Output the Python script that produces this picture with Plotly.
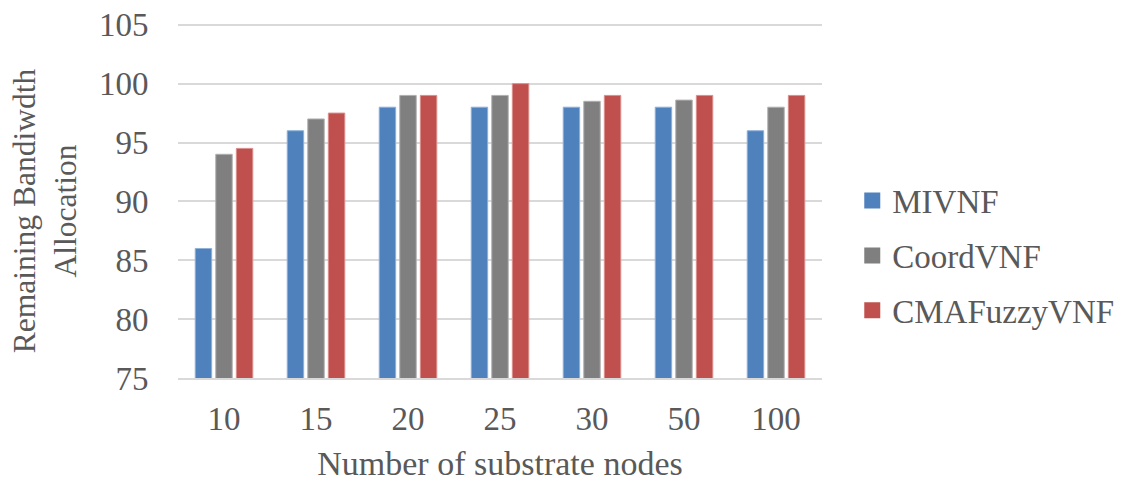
import plotly.graph_objects as go

categories = ["10", "15", "20", "25", "30", "50", "100"]
mivnf = [86, 96, 98, 98, 98, 98, 96]
coordvnf = [94, 97, 99, 99, 98.5, 98.6, 98]
cmafuzzy = [94.5, 97.5, 99, 100, 99, 99, 99]
series_names = ["MIVNF", "CoordVNF", "CMAFuzzyVNF"]
series_values = [mivnf, coordvnf, cmafuzzy]
colors = ["#4F81BD", "#7F7F7F", "#C0504D"]
edge_colors = ["#8FB0D8", "#B0B0B0", "#DB8E8C"]
y_ticks = [75, 80, 85, 90, 95, 100, 105]

FONT = "Liberation Serif"
TXT = "#595959"

fig = go.Figure()
for name, vals, c, ec in zip(series_names, series_values, colors, edge_colors):
    fig.add_trace(go.Bar(
        x=categories, y=vals, name=name, showlegend=False,
        marker=dict(color=c, line=dict(color=ec, width=1)),
    ))
for name, c in zip(series_names, colors):
    fig.add_trace(go.Scatter(
        x=[None], y=[None], mode="markers", name=name,
        marker=dict(symbol="square", size=17, color=c),
        legendgroup=name, showlegend=True,
    ))

fig.update_layout(
    width=1144, height=482,
    margin=dict(l=178, r=322, t=23, b=104, autoexpand=False),
    paper_bgcolor="white", plot_bgcolor="white",
    barmode="group", bargap=0.33, bargroupgap=0.2,
    font=dict(family=FONT, color=TXT, size=33),
    legend=dict(
        x=1.047, y=0.345, xanchor="left", yanchor="middle",
        font=dict(family=FONT, size=33, color=TXT),
        traceorder="grouped", tracegroupgap=9,
        itemwidth=30, bgcolor="rgba(0,0,0,0)",
    ),
    annotations=[dict(
        text="Remaining Bandiwdth<br>Allocation",
        xref="paper", yref="paper", x=-0.2065, y=0.47,
        xanchor="center", yanchor="middle", textangle=-90,
        showarrow=False, font=dict(family=FONT, size=31.5, color=TXT),
    )],
)
fig.update_xaxes(
    type="category", automargin=False,
    showgrid=False, showline=True, linecolor="#D9D9D9", linewidth=2,
    ticks="outside", ticklen=10, tickcolor="rgba(0,0,0,0)",
    tickfont=dict(family=FONT, size=33, color=TXT),
    title=dict(text="Number of substrate nodes",
               font=dict(family=FONT, size=34, color=TXT), standoff=19),
)
fig.update_yaxes(
    range=[75, 105.15], tickvals=y_ticks, automargin=False,
    showgrid=True, gridcolor="#D9D9D9", gridwidth=2,
    zeroline=False, showline=False,
    ticks="outside", ticklen=22, tickcolor="rgba(0,0,0,0)",
    tickfont=dict(family=FONT, size=33, color=TXT),
)

fig.write_html("out.html")
